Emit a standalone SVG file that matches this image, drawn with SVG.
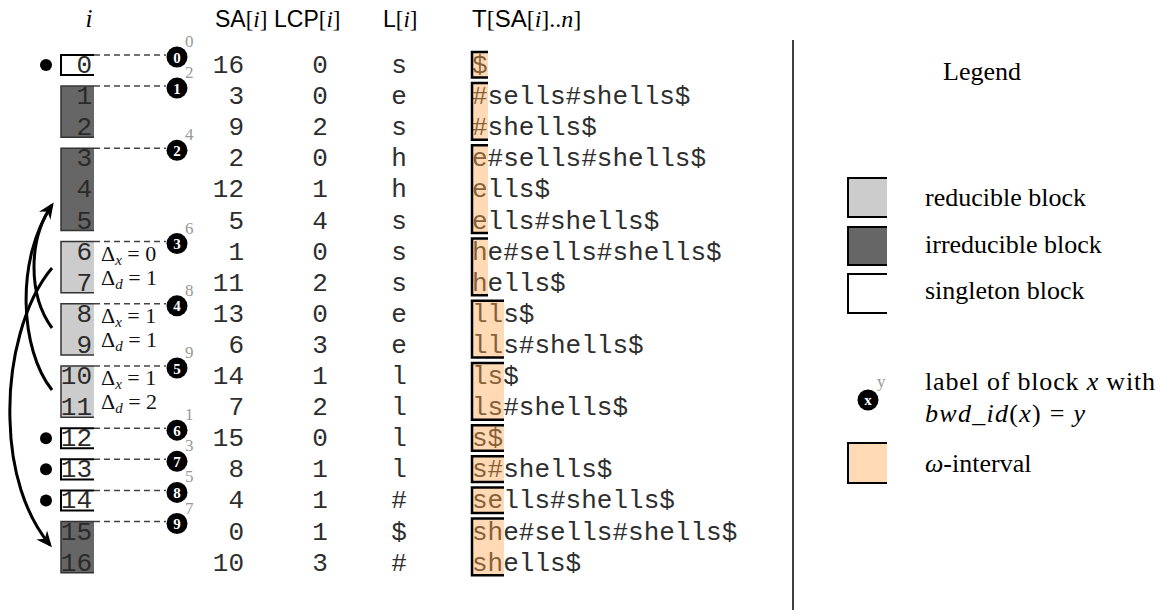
<svg xmlns="http://www.w3.org/2000/svg" width="1160" height="614" viewBox="0 0 1160 614">
<defs>
<style>
.mono{font-family:"Liberation Mono","Courier New",monospace;font-size:26px;fill:#2e2e2e}
.idx{font-family:"Liberation Mono","Courier New",monospace;font-size:26px;fill:#2a2a2a;text-anchor:end}
.sa{text-anchor:end}
.mid{text-anchor:middle}
.sf{font-family:"Liberation Sans",Arial,sans-serif}
.rm{font-family:"Liberation Serif","Times New Roman",serif;font-style:normal}
.it{font-family:"Liberation Serif","Times New Roman",serif;font-style:italic}
.hdr{font-size:23px;fill:#000}
.irr{fill:#666}
.red{fill:#ccc}
.sng{fill:#fff}
.bd{fill:none;stroke:#333;stroke-width:1.5}
.bds{fill:none;stroke:#000;stroke-width:2}
.lab{fill:#000}
.labn{font-family:"Liberation Serif","Times New Roman",serif;font-weight:bold;font-size:15px;fill:#fff;text-anchor:middle}
.sup{font-family:"Liberation Serif","Times New Roman",serif;font-size:17px;fill:#999}
.dash{stroke:#444;stroke-width:1.5;stroke-dasharray:6 4;fill:none}
.arc{fill:none;stroke:#000;stroke-width:3}
.hl{fill:#ffa64d;fill-opacity:0.42}
.hlb{fill:none;stroke:#000;stroke-width:2.5}
.delta{font-family:"Liberation Serif","Times New Roman",serif;font-size:22px;fill:#111}
.leg{font-family:"Liberation Serif","Times New Roman",serif;font-size:26px;fill:#000}
</style>
<marker id="ah" markerUnits="userSpaceOnUse" markerWidth="18" markerHeight="16" refX="13" refY="8" orient="auto">
<path d="M0,1 L16,8 L0,15 L5,8 Z" fill="#000"/>
</marker>
</defs>
<rect width="1160" height="614" fill="#fff"/>

<!-- headers -->
<g id="headers" class="hdr">
<text x="89" y="27" class="it" text-anchor="middle" font-size="25">i</text>
<text x="215" y="27"><tspan class="sf">SA</tspan><tspan class="rm">[</tspan><tspan class="it">i</tspan><tspan class="rm">]</tspan></text>
<text x="274" y="27"><tspan class="sf">LCP</tspan><tspan class="rm">[</tspan><tspan class="it">i</tspan><tspan class="rm">]</tspan></text>
<text x="383" y="27"><tspan class="sf">L</tspan><tspan class="rm">[</tspan><tspan class="it">i</tspan><tspan class="rm">]</tspan></text>
<text x="472" y="27" font-size="24"><tspan class="sf">T</tspan><tspan class="rm">[</tspan><tspan class="sf">SA</tspan><tspan class="rm">[</tspan><tspan class="it">i</tspan><tspan class="rm">]..</tspan><tspan class="it">n</tspan><tspan class="rm">]</tspan></text>
</g>

<!-- connectors -->
<g id="connectors">
<path class="dash" d="M94 55H166"/>
<path class="dash" d="M94 86.1H166"/>
<path class="dash" d="M94 148.3H166"/>
<path class="dash" d="M94 241.6H166"/>
<path class="dash" d="M94 303.8H166"/>
<path class="dash" d="M94 366H166"/>
<path class="dash" d="M94 428.2H166"/>
<path class="dash" d="M94 459.3H166"/>
<path class="dash" d="M94 490.4H166"/>
<path class="dash" d="M94 521.5H166"/>
<path class="arc" d="M52 268 C25 300, 8 360, 10 420 C11 470, 25 515, 50 545" marker-end="url(#ah)"/>
<path class="arc" d="M52 328 C28 295, 28 240, 52 205" marker-end="url(#ah)"/>
<path class="arc" d="M52 390 C20 350, 15 260, 52 205"/>
</g>

<!-- blocks -->
<g id="block0">
<circle cx="46" cy="65" r="6" fill="#000"/>
<rect class="sng" x="61" y="55" width="33" height="20.1"/>
<path class="bds" d="M94 55H61V75.1H94"/>
<text class="idx" x="92" y="73">0</text>
<circle class="lab" cx="177" cy="57" r="10.5"/>
<text class="labn" x="177" y="62.5">0</text>
<text class="sup" x="185" y="47">0</text>
</g>
<g id="block1">
<rect class="irr" x="61" y="86.1" width="33" height="51.2"/>
<path class="bd" d="M94 86.1H61V137.3H94"/>
<text class="idx" x="92" y="104.1">1</text>
<text class="idx" x="92" y="135.2">2</text>
<circle class="lab" cx="177" cy="88.1" r="10.5"/>
<text class="labn" x="177" y="93.6">1</text>
<text class="sup" x="185" y="78.1">2</text>
</g>
<g id="block2">
<rect class="irr" x="61" y="148.3" width="33" height="82.3"/>
<path class="bd" d="M94 148.3H61V230.6H94"/>
<text class="idx" x="92" y="166.3">3</text>
<text class="idx" x="92" y="197.4">4</text>
<text class="idx" x="92" y="228.5">5</text>
<circle class="lab" cx="177" cy="150.3" r="10.5"/>
<text class="labn" x="177" y="155.8">2</text>
<text class="sup" x="185" y="140.3">4</text>
</g>
<g id="block3">
<rect class="red" x="61" y="241.6" width="33" height="51.2"/>
<path class="bd" d="M94 241.6H61V292.8H94"/>
<text class="idx" x="92" y="259.6">6</text>
<text class="idx" x="92" y="290.7">7</text>
<text class="delta" x="101" y="261">Δ<tspan class="it" font-size="15" dy="4">x</tspan><tspan dy="-4"> = 0</tspan></text>
<text class="delta" x="101" y="285">Δ<tspan class="it" font-size="15" dy="4">d</tspan><tspan dy="-4"> = 1</tspan></text>
<circle class="lab" cx="177" cy="243.6" r="10.5"/>
<text class="labn" x="177" y="249.1">3</text>
<text class="sup" x="185" y="233.6">6</text>
</g>
<g id="block4">
<rect class="red" x="61" y="303.8" width="33" height="51.2"/>
<path class="bd" d="M94 303.8H61V355H94"/>
<text class="idx" x="92" y="321.8">8</text>
<text class="idx" x="92" y="352.9">9</text>
<text class="delta" x="101" y="323">Δ<tspan class="it" font-size="15" dy="4">x</tspan><tspan dy="-4"> = 1</tspan></text>
<text class="delta" x="101" y="347">Δ<tspan class="it" font-size="15" dy="4">d</tspan><tspan dy="-4"> = 1</tspan></text>
<circle class="lab" cx="177" cy="305.8" r="10.5"/>
<text class="labn" x="177" y="311.3">4</text>
<text class="sup" x="185" y="295.8">8</text>
</g>
<g id="block5">
<rect class="red" x="61" y="366" width="33" height="51.2"/>
<path class="bd" d="M94 366H61V417.2H94"/>
<text class="idx" x="92" y="384">10</text>
<text class="idx" x="92" y="415.1">11</text>
<text class="delta" x="101" y="385">Δ<tspan class="it" font-size="15" dy="4">x</tspan><tspan dy="-4"> = 1</tspan></text>
<text class="delta" x="101" y="409">Δ<tspan class="it" font-size="15" dy="4">d</tspan><tspan dy="-4"> = 2</tspan></text>
<circle class="lab" cx="177" cy="368" r="10.5"/>
<text class="labn" x="177" y="373.5">5</text>
<text class="sup" x="185" y="358">9</text>
</g>
<g id="block6">
<circle cx="46" cy="438.2" r="6" fill="#000"/>
<rect class="sng" x="61" y="428.2" width="33" height="20.1"/>
<path class="bds" d="M94 428.2H61V448.3H94"/>
<text class="idx" x="92" y="446.2">12</text>
<circle class="lab" cx="177" cy="430.2" r="10.5"/>
<text class="labn" x="177" y="435.7">6</text>
<text class="sup" x="185" y="420.2">1</text>
</g>
<g id="block7">
<circle cx="46" cy="469.3" r="6" fill="#000"/>
<rect class="sng" x="61" y="459.3" width="33" height="20.1"/>
<path class="bds" d="M94 459.3H61V479.4H94"/>
<text class="idx" x="92" y="477.3">13</text>
<circle class="lab" cx="177" cy="461.3" r="10.5"/>
<text class="labn" x="177" y="466.8">7</text>
<text class="sup" x="185" y="451.3">3</text>
</g>
<g id="block8">
<circle cx="46" cy="500.4" r="6" fill="#000"/>
<rect class="sng" x="61" y="490.4" width="33" height="20.1"/>
<path class="bds" d="M94 490.4H61V510.5H94"/>
<text class="idx" x="92" y="508.4">14</text>
<circle class="lab" cx="177" cy="492.4" r="10.5"/>
<text class="labn" x="177" y="497.9">8</text>
<text class="sup" x="185" y="482.4">5</text>
</g>
<g id="block9">
<rect class="irr" x="61" y="521.5" width="33" height="51.2"/>
<path class="bd" d="M94 521.5H61V572.7H94"/>
<text class="idx" x="92" y="539.5">15</text>
<text class="idx" x="92" y="570.6">16</text>
<circle class="lab" cx="177" cy="523.5" r="10.5"/>
<text class="labn" x="177" y="529">9</text>
<text class="sup" x="185" y="513.5">7</text>
</g>

<!-- table columns -->
<g id="sa-column" class="mono sa">
<text x="244" y="73">16</text>
<text x="244" y="104.1">3</text>
<text x="244" y="135.2">9</text>
<text x="244" y="166.3">2</text>
<text x="244" y="197.4">12</text>
<text x="244" y="228.5">5</text>
<text x="244" y="259.6">1</text>
<text x="244" y="290.7">11</text>
<text x="244" y="321.8">13</text>
<text x="244" y="352.9">6</text>
<text x="244" y="384">14</text>
<text x="244" y="415.1">7</text>
<text x="244" y="446.2">15</text>
<text x="244" y="477.3">8</text>
<text x="244" y="508.4">4</text>
<text x="244" y="539.5">0</text>
<text x="244" y="570.6">10</text>
</g>
<g id="lcp-column" class="mono mid">
<text x="320" y="73">0</text>
<text x="320" y="104.1">0</text>
<text x="320" y="135.2">2</text>
<text x="320" y="166.3">0</text>
<text x="320" y="197.4">1</text>
<text x="320" y="228.5">4</text>
<text x="320" y="259.6">0</text>
<text x="320" y="290.7">2</text>
<text x="320" y="321.8">0</text>
<text x="320" y="352.9">3</text>
<text x="320" y="384">1</text>
<text x="320" y="415.1">2</text>
<text x="320" y="446.2">0</text>
<text x="320" y="477.3">1</text>
<text x="320" y="508.4">1</text>
<text x="320" y="539.5">1</text>
<text x="320" y="570.6">3</text>
</g>
<g id="l-column" class="mono mid">
<text x="399" y="73">s</text>
<text x="399" y="104.1">e</text>
<text x="399" y="135.2">s</text>
<text x="399" y="166.3">h</text>
<text x="399" y="197.4">h</text>
<text x="399" y="228.5">s</text>
<text x="399" y="259.6">s</text>
<text x="399" y="290.7">s</text>
<text x="399" y="321.8">e</text>
<text x="399" y="352.9">e</text>
<text x="399" y="384">l</text>
<text x="399" y="415.1">l</text>
<text x="399" y="446.2">l</text>
<text x="399" y="477.3">l</text>
<text x="399" y="508.4">#</text>
<text x="399" y="539.5">$</text>
<text x="399" y="570.6">#</text>
</g>
<g id="t-column" class="mono">
<text x="472" y="73">$</text>
<text x="472" y="104.1">#sells#shells$</text>
<text x="472" y="135.2">#shells$</text>
<text x="472" y="166.3">e#sells#shells$</text>
<text x="472" y="197.4">ells$</text>
<text x="472" y="228.5">ells#shells$</text>
<text x="472" y="259.6">he#sells#shells$</text>
<text x="472" y="290.7">hells$</text>
<text x="472" y="321.8">lls$</text>
<text x="472" y="352.9">lls#shells$</text>
<text x="472" y="384">ls$</text>
<text x="472" y="415.1">ls#shells$</text>
<text x="472" y="446.2">s$</text>
<text x="472" y="477.3">s#shells$</text>
<text x="472" y="508.4">sells#shells$</text>
<text x="472" y="539.5">she#sells#shells$</text>
<text x="472" y="570.6">shells$</text>
</g>
<g id="omega-intervals">
<rect class="hl" x="472" y="52" width="16" height="25.6"/>
<rect class="hl" x="472" y="83.1" width="16" height="56.7"/>
<rect class="hl" x="472" y="145.3" width="16" height="87.7"/>
<rect class="hl" x="472" y="238.6" width="16" height="56.7"/>
<rect class="hl" x="472" y="300.8" width="32" height="56.7"/>
<rect class="hl" x="472" y="363" width="32" height="56.7"/>
<rect class="hl" x="472" y="425.2" width="32" height="25.6"/>
<rect class="hl" x="472" y="456.3" width="32" height="25.6"/>
<rect class="hl" x="472" y="487.4" width="32" height="25.6"/>
<rect class="hl" x="472" y="518.5" width="32" height="56.7"/>
<path class="hlb" d="M488 52H472V77.6H488"/>
<path class="hlb" d="M488 83.1H472V139.8H488"/>
<path class="hlb" d="M488 145.3H472V233H488"/>
<path class="hlb" d="M488 238.6H472V295.3H488"/>
<path class="hlb" d="M504 300.8H472V357.5H504"/>
<path class="hlb" d="M504 363H472V419.7H504"/>
<path class="hlb" d="M504 425.2H472V450.8H504"/>
<path class="hlb" d="M504 456.3H472V481.9H504"/>
<path class="hlb" d="M504 487.4H472V513H504"/>
<path class="hlb" d="M504 518.5H472V575.2H504"/>
</g>

<line x1="793" y1="40" x2="793" y2="610" stroke="#000" stroke-width="1.5"/>

<!-- legend -->
<g id="legend">
<text class="leg" x="943" y="80">Legend</text>
<g id="legend-reducible">
<rect x="848" y="178" width="39" height="39" fill="#ccc"/>
<path class="bds" d="M887 178H848V217H887"/>
<text class="leg" x="925" y="206">reducible block</text>
</g>
<g id="legend-irreducible">
<rect x="848" y="227" width="39" height="38" fill="#666"/>
<path class="bds" d="M887 227H848V265H887"/>
<text class="leg" x="925" y="253">irreducible block</text>
</g>
<g id="legend-singleton">
<rect x="848" y="274" width="39" height="39" fill="#fff"/>
<path class="bds" d="M887 274H848V313H887"/>
<text class="leg" x="925" y="299">singleton block</text>
</g>
<g id="legend-label">
<circle cx="868" cy="400" r="10.5" fill="#000"/>
<text class="labn" x="868" y="405">x</text>
<text class="sup" x="877" y="387">y</text>
<text class="leg" x="925" y="390" textLength="230" lengthAdjust="spacing">label of block <tspan class="it">x</tspan> with</text>
<text class="leg" x="925" y="422" textLength="160" lengthAdjust="spacing"><tspan class="it">bwd</tspan>_<tspan class="it">id</tspan>(<tspan class="it">x</tspan>) = <tspan class="it">y</tspan></text>
</g>
<g id="legend-omega">
<rect x="848" y="443" width="39" height="40" fill="#ffdab4"/>
<path class="bds" d="M887 443H848V483H887"/>
<text class="leg" x="925" y="472"><tspan class="it">ω</tspan>-interval</text>
</g>
</g>
</svg>
